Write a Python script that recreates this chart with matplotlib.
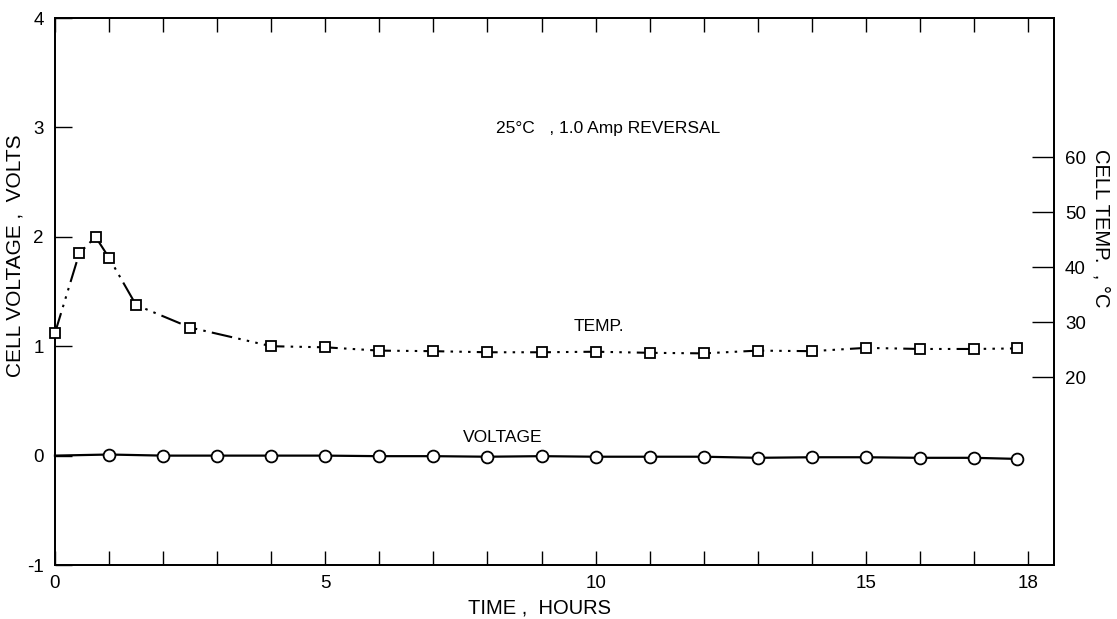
import matplotlib
matplotlib.use('Agg')
import matplotlib.pyplot as plt

plt.rcParams['font.family'] = ['Liberation Sans', 'DejaVu Sans']

# temperature (squares), hours and degC
temp_time = [0, 0.45, 0.75, 1.0, 1.5, 2.5, 4, 5, 6, 7, 8, 9, 10, 11, 12, 13, 14, 15, 16, 17, 17.8]
temp_c = [28.0, 42.5, 45.5, 41.7, 33.1, 29.0, 25.6, 25.4, 24.8, 24.7, 24.5, 24.5, 24.6,
          24.4, 24.3, 24.8, 24.7, 25.3, 25.1, 25.1, 25.2]

# cell voltage (circles), hours and volts
volt_time = [0, 1, 2, 3, 4, 5, 6, 7, 8, 9, 10, 11, 12, 13, 14, 15, 16, 17, 17.8]
volt_v = [0.0, 0.01, 0.0, 0.0, 0.0, 0.0, -0.005, -0.005, -0.01, -0.005, -0.01, -0.01,
          -0.01, -0.02, -0.015, -0.015, -0.02, -0.02, -0.03]

x_labels = {0: '0', 5: '5', 10: '10', 15: '15', 18: '18'}
v_ticks = [-1, 0, 1, 2, 3, 4]
t_ticks = [20, 30, 40, 50, 60]

fig = plt.figure(figsize=(11.17, 6.19), dpi=100)
ax = fig.add_axes([0.0492, 0.0872, 0.8944, 0.8837])
ax2 = ax.twinx()

ax.plot(volt_time, volt_v, color='black', lw=1.6, marker='o', ms=8.5,
        mfc='white', mec='black', mew=1.3, markevery=list(range(1, len(volt_time))),
        clip_on=False, zorder=3)

ax2.plot(temp_time, temp_c, color='black', lw=1.5, marker='s', ms=7.5,
         mfc='white', mec='black', mew=1.3, dashes=(10, 3, 1.2, 3, 1.2, 3, 1.2, 3),
         clip_on=False, zorder=3)

ax.set_xlim(0, 18.48)
ax.set_ylim(-1, 4)
ax2.set_ylim(-14.2, 85.3)

ax.set_xticks(range(0, 19))
ax.set_xticklabels([x_labels.get(i, '') for i in range(0, 19)])
ax.set_yticks(v_ticks)
ax.set_yticklabels([str(v) for v in v_ticks])
ax2.set_yticks(t_ticks)

ax.tick_params(axis='x', direction='in', length=10, width=1.0, pad=7,
               labelsize=13.5, top=True)
ax.tick_params(axis='y', direction='in', length=12, width=1.0, pad=8,
               labelsize=13.5, right=False)
ax2.tick_params(axis='y', direction='in', length=16, width=1.0, pad=8,
                labelsize=13.5)

for a in (ax, ax2):
    for s in a.spines.values():
        s.set_linewidth(1.3)

ax.set_xlabel('TIME ,  HOURS', fontsize=14.5, labelpad=2)
ax.xaxis.set_label_coords(0.485, -0.062)
ax.set_ylabel('CELL VOLTAGE ,  VOLTS', fontsize=15)
ax.yaxis.set_label_coords(-0.03, 0.565)
ax2.set_ylabel('CELL TEMP.  , °C', fontsize=14.5, rotation=-90, va='center')
ax2.yaxis.set_label_coords(1.047, 0.615)

ax.text(8.15, 2.99, '25°C   , 1.0 Amp REVERSAL', fontsize=12.5, ha='left', va='center')
ax.text(9.6, 1.18, 'TEMP.', fontsize=12.5, ha='left', va='center')
ax.text(7.55, 0.17, 'VOLTAGE', fontsize=12.5, ha='left', va='center')

fig.savefig('out.png', dpi=100)
